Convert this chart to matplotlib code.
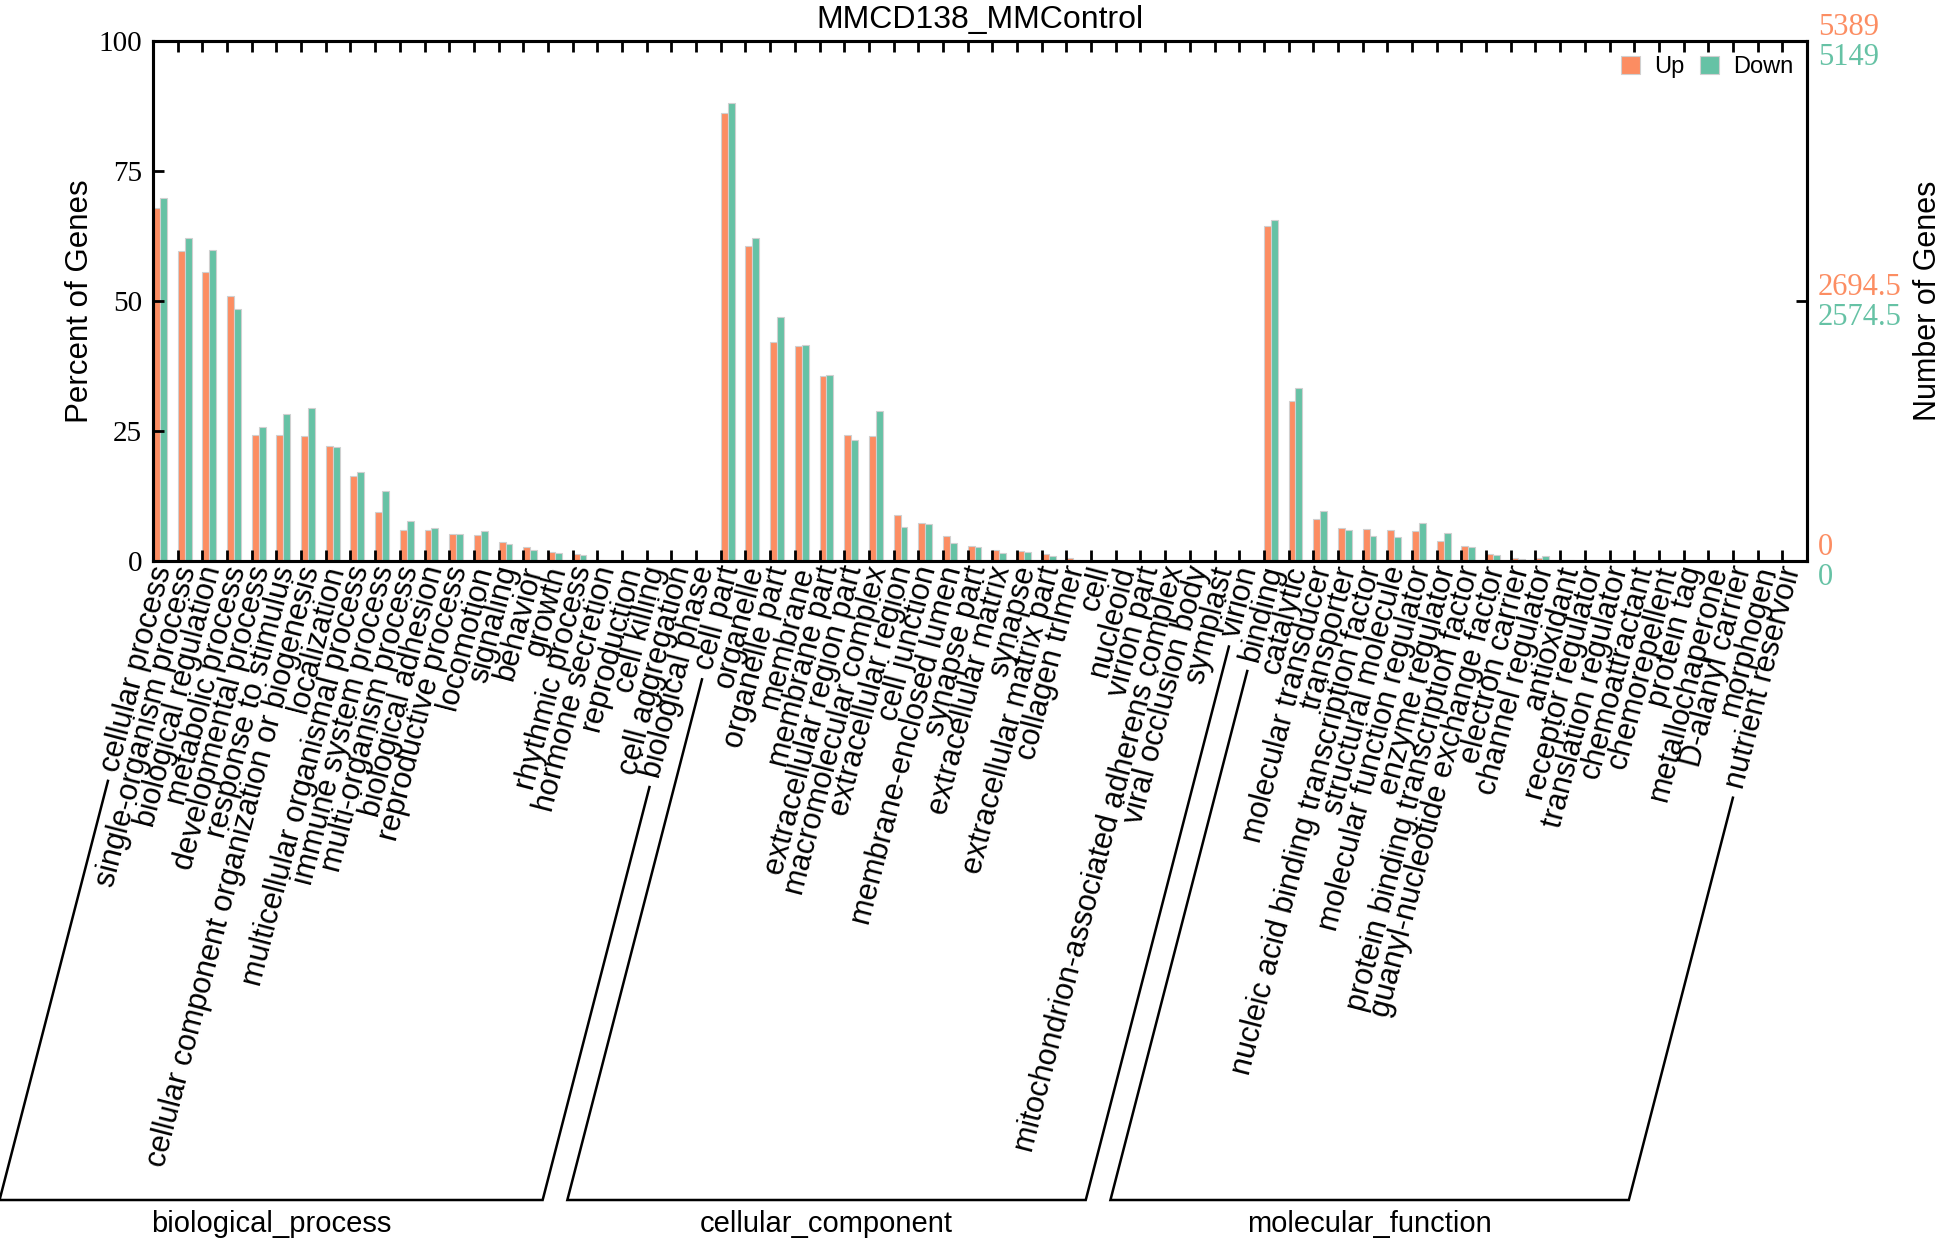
import matplotlib
matplotlib.use("Agg")
import matplotlib.pyplot as plt
import numpy as np
from matplotlib.lines import Line2D

# ---------------- data ----------------
bp_terms = ["cellular process", "single-organism process", "biological regulation",
            "metabolic process", "developmental process", "response to stimulus",
            "cellular component organization or biogenesis", "localization",
            "multicellular organismal process", "immune system process",
            "multi-organism process", "biological adhesion", "reproductive process",
            "locomotion", "signaling", "behavior", "growth", "rhythmic process",
            "hormone secretion", "reproduction", "cell killing", "cell aggregation",
            "biological phase"]
cc_terms = ["cell part", "organelle", "organelle part", "membrane", "membrane part",
            "extracellular region part", "macromolecular complex", "extracellular region",
            "cell junction", "membrane-enclosed lumen", "synapse part",
            "extracellular matrix", "synapse", "extracellular matrix part",
            "collagen trimer", "cell", "nucleoid", "virion part",
            "mitochondrion-associated adherens complex", "viral occlusion body",
            "symplast", "virion"]
mf_terms = ["binding", "catalytic", "molecular transducer", "transporter",
            "nucleic acid binding transcription factor", "structural molecule",
            "molecular function regulator", "enzyme regulator",
            "protein binding transcription factor", "guanyl-nucleotide exchange factor",
            "electron carrier", "channel regulator", "antioxidant", "receptor regulator",
            "translation regulator", "chemoattractant", "chemorepellent", "protein tag",
            "metallochaperone", "D-alanyl carrier", "morphogen", "nutrient reservoir"]

bp_up = [67.9, 59.7, 55.6, 51.0, 24.3, 24.3, 24.1, 22.2, 16.4, 9.4, 6.0, 5.9, 5.2,
         5.0, 3.7, 2.6, 1.7, 1.3, 0.1, 0.1, 0.05, 0.0, 0.0]
bp_down = [69.9, 62.1, 59.9, 48.5, 25.7, 28.2, 29.4, 22.0, 17.1, 13.5, 7.7, 6.4, 5.2,
           5.8, 3.2, 2.1, 1.6, 1.1, 0.05, 0.1, 0.2, 0.0, 0.05]
cc_up = [86.1, 60.6, 42.1, 41.4, 35.5, 24.2, 24.1, 8.9, 7.4, 4.9, 2.9, 2.1, 2.0, 1.35,
         0.6, 0.05, 0.0, 0.05, 0.0, 0.0, 0.0, 0.0]
cc_down = [88.1, 62.1, 47.0, 41.5, 35.7, 23.3, 28.8, 6.5, 7.2, 3.5, 2.75, 1.6, 1.7, 0.9,
           0.1, 0.0, 0.0, 0.05, 0.0, 0.0, 0.0, 0.0]
mf_up = [64.5, 30.8, 8.1, 6.3, 6.2, 6.0, 5.7, 3.8, 2.8, 1.3, 0.65, 0.5, 0.1, 0.0, 0.0,
         0.0, 0.0, 0.0, 0.0, 0.0, 0.0, 0.0]
mf_down = [65.6, 33.3, 9.6, 6.0, 4.8, 4.7, 7.3, 5.4, 2.6, 1.25, 0.4, 0.9, 0.1, 0.0, 0.0,
           0.0, 0.0, 0.0, 0.0, 0.0, 0.0, 0.0]

group_names = ["biological_process", "cellular_component", "molecular_function"]
up_total = 5389
down_total = 5149
yticks = [0, 25, 50, 75, 100]

# ---------------- styling ----------------
UP_C = "#FC8D62"
DN_C = "#66C2A5"
SANS = "Liberation Sans"
SERIF = "Liberation Serif"
ANG = 75.5

terms = bp_terms + cc_terms + mf_terms
up = np.array(bp_up + cc_up + mf_up)
down = np.array(bp_down + cc_down + mf_down)
groups = [(0, len(bp_terms) - 1),
          (len(bp_terms), len(bp_terms) + len(cc_terms) - 1),
          (len(bp_terms) + len(cc_terms), len(terms) - 1)]
x = np.arange(len(terms))
bw = 0.28

FW, FH = 1946, 1241
fig = plt.figure(figsize=(FW / 100, FH / 100), dpi=100)
ax = fig.add_axes([153 / FW, 1 - 561 / FH, 1654 / FW, 520 / FH])

ax.bar(x, up, width=bw, align="edge", color=UP_C, edgecolor="#d0d0d0", linewidth=0.8,
       label="Up")
ax.bar(x + bw, down, width=bw, align="edge", color=DN_C, edgecolor="#d0d0d0",
       linewidth=0.8, label="Down")

ax.set_xlim(0, len(terms))
ax.set_ylim(0, 100)
for sp in ax.spines.values():
    sp.set_linewidth(2.2)

ax.set_xticks(x)
ax.set_xticks(x + 0.42, labels=terms, minor=True)
ax.tick_params(axis="x", which="major", direction="in", length=8, width=2,
               top=True, bottom=True, labelbottom=False)
ax.tick_params(axis="x", which="minor", length=0, pad=4, labelsize=22)
for t in ax.get_xticklabels(minor=True):
    t.set_rotation(ANG)
    t.set_ha("right")
    t.set_va("center")
    t.set_rotation_mode("anchor")
    t.set_family(SANS)

ax.set_yticks(yticks)
ax.set_yticklabels([str(v) for v in yticks], family=SERIF, fontsize=21)
ax.tick_params(axis="y", direction="in", length=8, width=2, pad=8)
ax.set_ylabel("Percent of Genes", family=SANS, fontsize=22.5, labelpad=2)

ax.set_title("MMCD138_MMControl", family=SANS, fontsize=23, pad=9)

# right axis
ax2 = ax.twinx()
ax2.set_ylim(0, 100)
ax2.set_yticks([50])
ax2.set_yticklabels([""])
ax2.tick_params(axis="y", direction="in", length=8, width=2)
for sp in ax2.spines.values():
    sp.set_linewidth(2.2)
ax2.set_ylabel("Number of Genes", family=SANS, fontsize=22, labelpad=73)
for frac in [1.0, 0.5, 0.0]:
    yv = 100 * frac
    uval = up_total * frac
    dval = down_total * frac
    fmt = lambda v: ("%g" % v)
    ax2.annotate(fmt(uval), xy=(1, yv), xycoords=("axes fraction", "data"),
                 xytext=(8, 10), textcoords="offset points", color=UP_C,
                 family=SERIF, fontsize=22, ha="left", va="center",
                 annotation_clip=False)
    ax2.annotate(fmt(dval), xy=(1, yv), xycoords=("axes fraction", "data"),
                 xytext=(8, -12), textcoords="offset points", color=DN_C,
                 family=SERIF, fontsize=22, ha="left", va="center",
                 annotation_clip=False)

leg = ax.legend(loc="upper right", bbox_to_anchor=(0.992, 0.972), ncol=2,
                frameon=False, prop={"family": SANS, "size": 17},
                handlelength=0.8, handleheight=0.8, handletextpad=0.6,
                columnspacing=0.7, borderpad=0, borderaxespad=0)

# ---------------- group brackets ----------------
fig.canvas.draw()
renderer = fig.canvas.get_renderer()
labels = ax.get_xticklabels(minor=True)
th = np.radians(ANG)
c, s = np.cos(th), np.sin(th)
c2 = np.cos(2 * th)
ybase = FH - 1200  # display pixels (y up)
gap = 10


def geom(t):
    bb = t.get_window_extent(renderer)
    Wd, Hd = bb.width, bb.height
    L = (Wd * c - Hd * s) / c2
    h = (Hd * c - Wd * s) / c2
    px = bb.x1 - h / 2 * s
    py = bb.y1 - h / 2 * c
    return px, py, L


inv = fig.transFigure.inverted()
for (a, b), name in zip(groups, group_names):
    pts = []
    for idx in (a, b):
        px, py, L = geom(labels[idx])
        start = (px - (L + gap) * c, py - (L + gap) * s)
        tb = (py - ybase) / s
        end = (px - tb * c, ybase)
        pts.append((start, end))
    (sa, ea), (sb, eb) = pts
    path = np.array([sa, ea, eb, sb])
    fpath = inv.transform(path)
    fig.add_artist(Line2D(fpath[:, 0], fpath[:, 1], transform=fig.transFigure,
                          color="black", linewidth=1.8, solid_joinstyle="miter"))
    cx = (ea[0] + eb[0]) / 2
    fx, fy = inv.transform((cx, ybase - 10))
    fig.text(fx, fy, name, family=SANS, fontsize=21, ha="center", va="top")

fig.savefig("out.png", dpi=100)
